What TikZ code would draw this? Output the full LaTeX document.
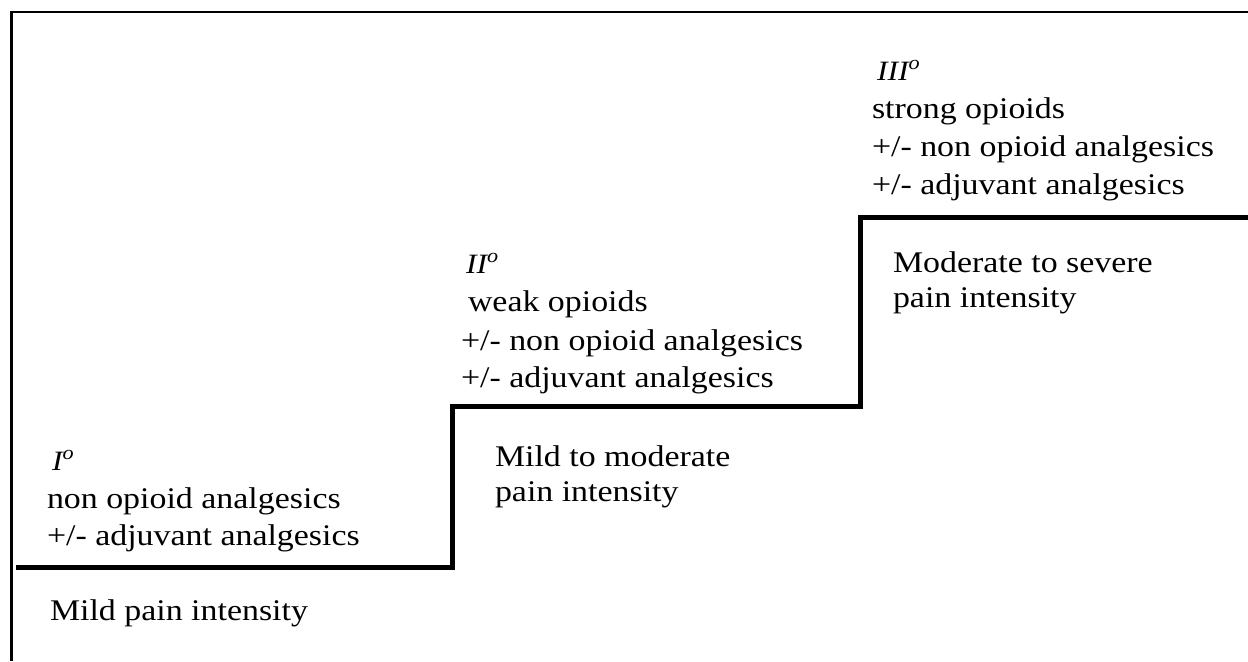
\documentclass[tikz,border=0pt]{standalone}
\usepackage{fontspec}
\setmainfont[FakeStretch=1.13]{Liberation Serif}
\begin{document}
\begin{tikzpicture}[x=0.5pt,y=-0.5pt,
  frameline/.style={line width=1.3pt},
  stairline/.style={line width=2.5pt},
  txt/.style={anchor=base west,inner sep=0pt,outer sep=0pt,font=\fontsize{15}{18}\selectfont},
  lvl/.style={anchor=base west,inner sep=0pt,outer sep=0pt,font=\fontsize{14}{16}\selectfont\itshape}]
\useasboundingbox (0,0) rectangle (1248,661);
% frame
\coordinate (fbl) at (11.5,661);
\coordinate (ftl) at (11.5,12);
\coordinate (ftr) at (1248,12);
\draw[frameline] (fbl) -- (ftl) -- (ftr);
% staircase
\coordinate (s0) at (16,567.5);
\coordinate (s1) at (452,567.5);
\coordinate (s2) at (452,406);
\coordinate (s3) at (860,406);
\coordinate (s4) at (860,217);
\coordinate (s5) at (1248,217);
\draw[stairline] (s0) -- (s1) -- (s2) -- (s3) -- (s4) -- (s5);
% step I
\node[lvl] (l1) at (52,470) {I\textsuperscript{o}};
\node[txt] (a1) at (47,508) {non opioid analgesics};
\node[txt] (a2) at (47,545) {+/- adjuvant analgesics};
\node[txt] (p1) at (50,620) {Mild pain intensity};
% step II
\node[lvl] (l2) at (466,273) {II\textsuperscript{o}};
\node[txt] (b1) at (468,311) {weak opioids};
\node[txt] (b2) at (461,350) {+/- non opioid analgesics};
\node[txt] (b3) at (461,387) {+/- adjuvant analgesics};
\node[txt] (p2a) at (495,466) {Mild to moderate};
\node[txt] (p2b) at (495,501) {pain intensity};
% step III
\node[lvl] (l3) at (877,80) {III\textsuperscript{o}};
\node[txt] (c1) at (872,118) {strong opioids};
\node[txt] (c2) at (872,156) {+/- non opioid analgesics};
\node[txt] (c3) at (872,194) {+/- adjuvant analgesics};
\node[txt] (p3a) at (893,272) {Moderate to severe};
\node[txt] (p3b) at (893,307) {pain intensity};
\end{tikzpicture}
\end{document}
